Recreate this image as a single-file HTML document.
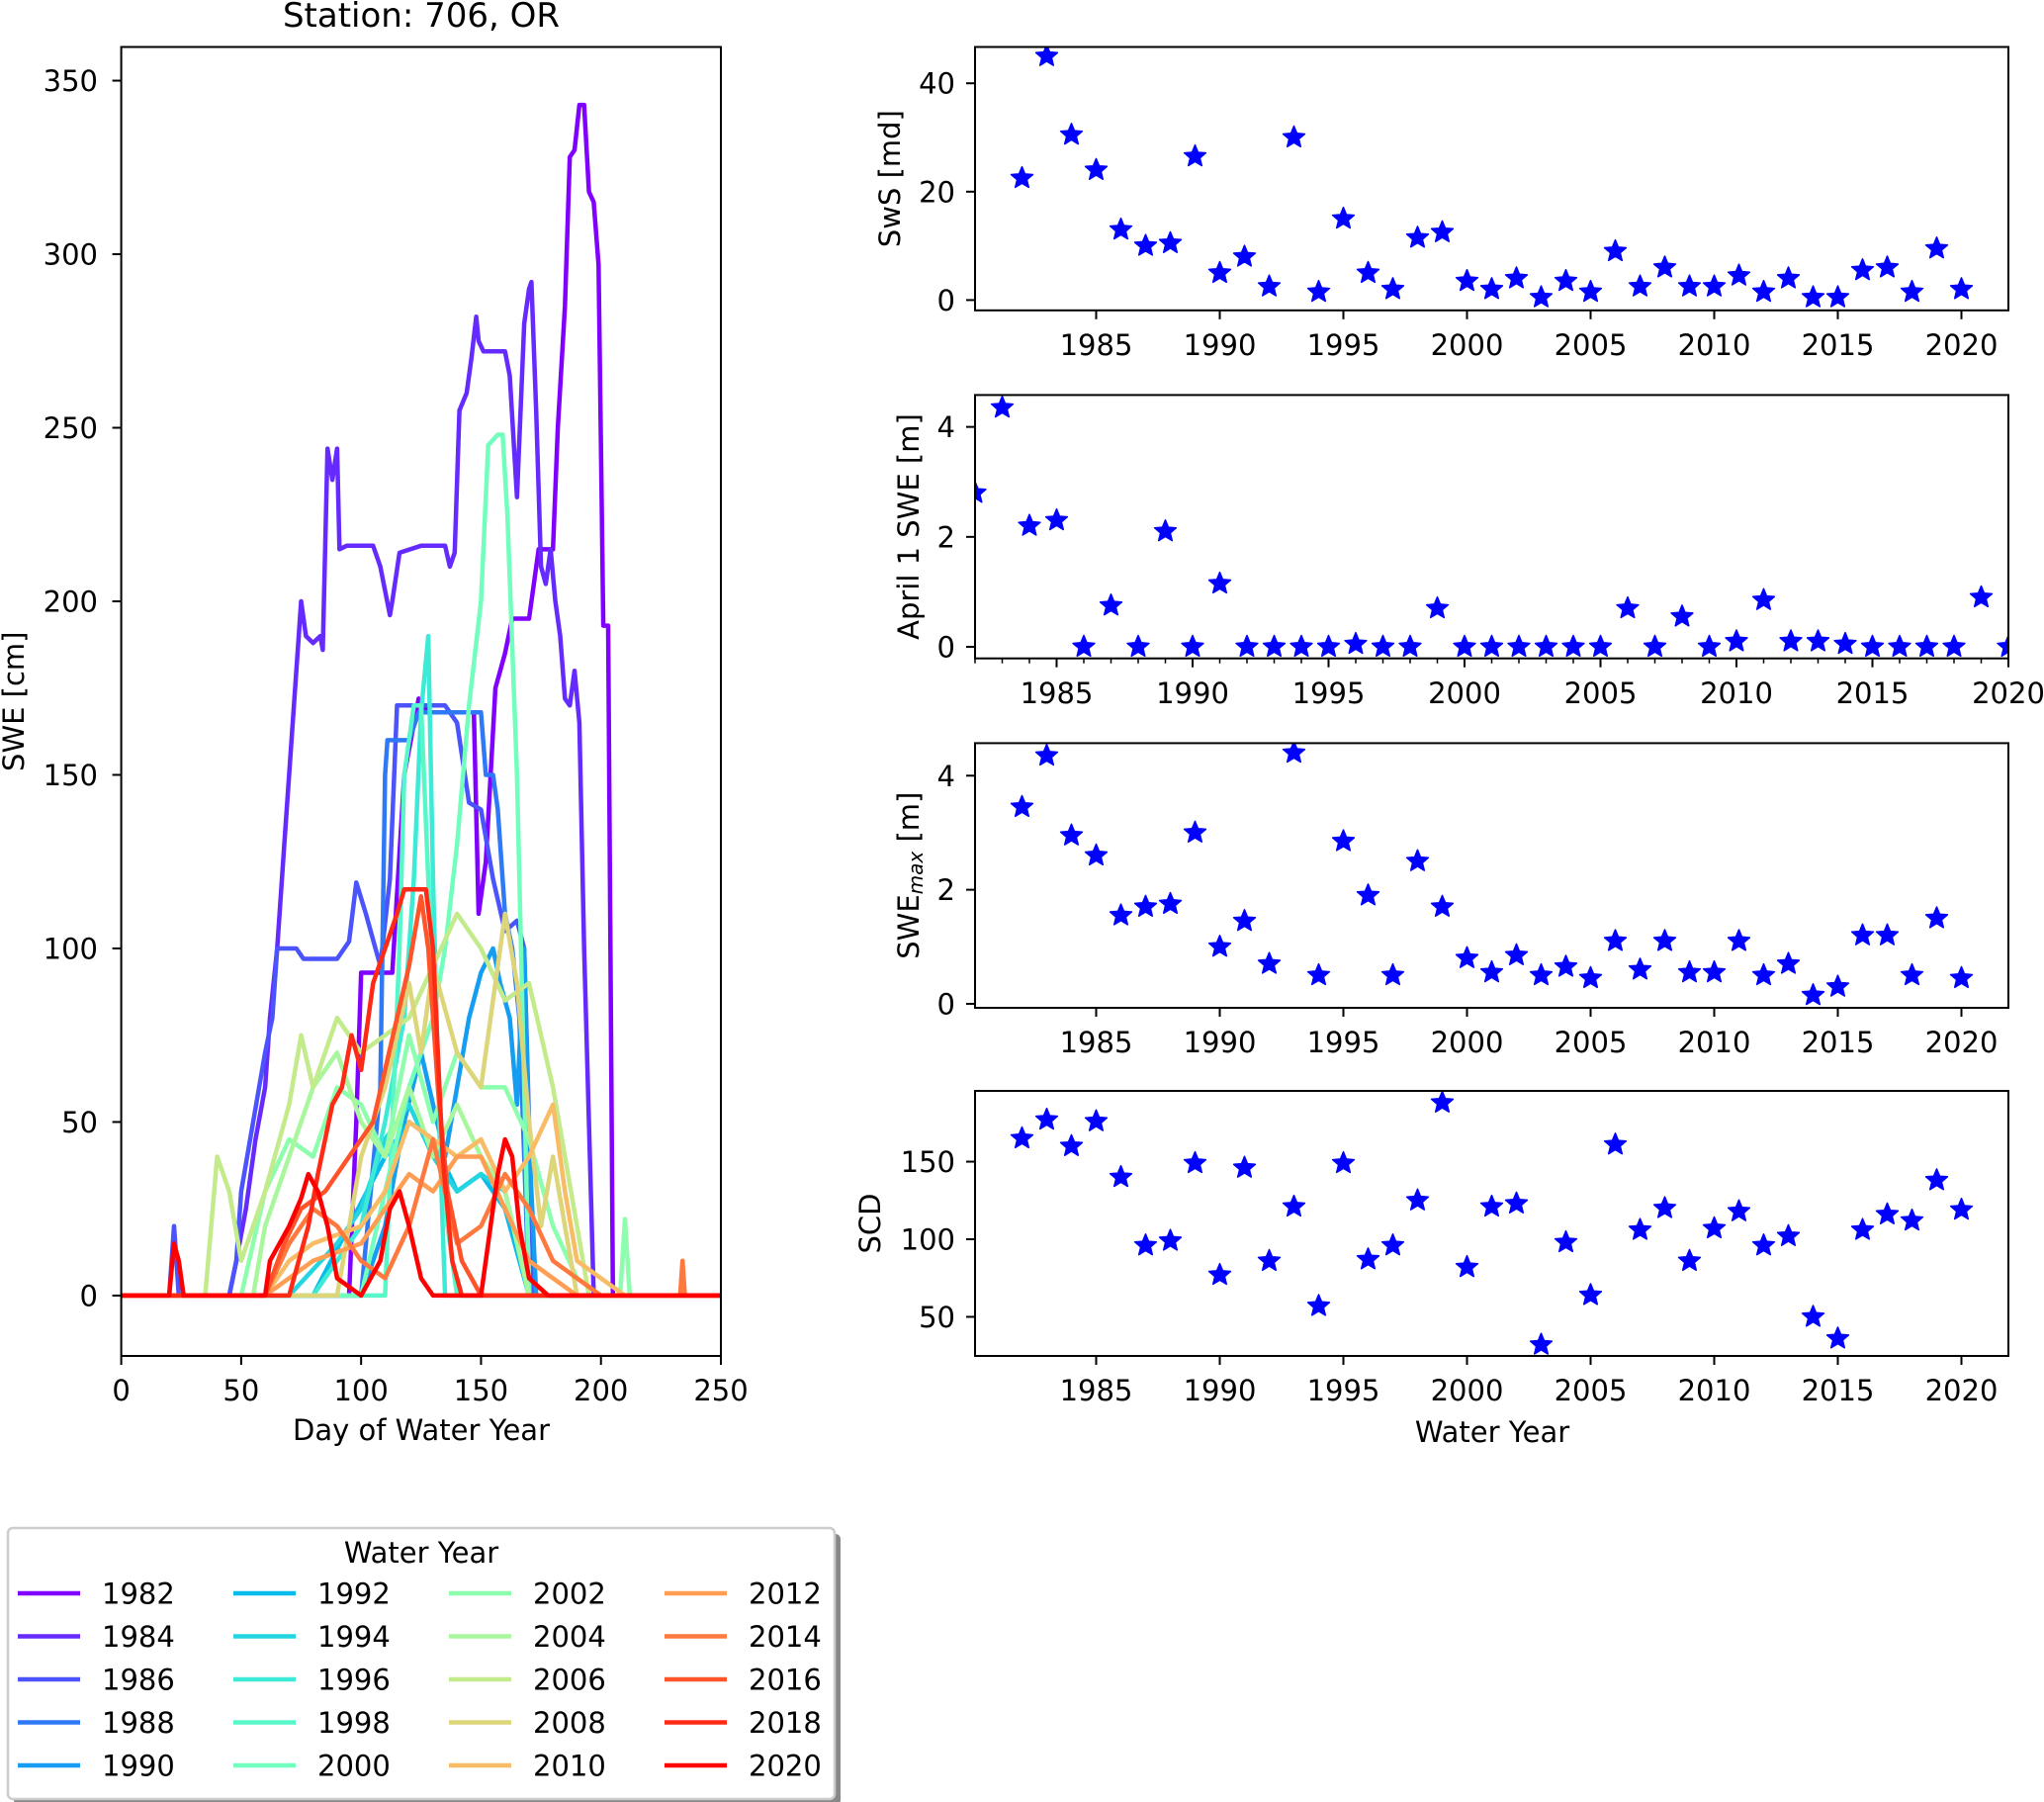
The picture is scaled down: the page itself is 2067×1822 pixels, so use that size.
<!DOCTYPE html>
<html><head><meta charset="utf-8"><style>
html,body{margin:0;padding:0;background:#fff;}
svg{display:block;font-family:"DejaVu Sans","Liberation Sans",sans-serif;}
</style></head><body>
<svg id="fig" width="2067" height="1822" viewBox="0 0 2067 1822" xmlns="http://www.w3.org/2000/svg">
<text x="426" y="27" font-size="34" text-anchor="middle">Station: 706, OR</text>
</svg>
<script>
// ---------- data ----------
const years = [];
for (let y = 1982; y <= 2020; y++) years.push(y);
const sws = [22.5,45,30.5,24,13,10,10.5,26.5,5,8,2.5,30,1.5,15,5,2,11.5,12.5,3.5,2,4,0.5,3.5,1.5,9,2.5,6,2.5,2.5,4.5,1.5,4,0.5,0.5,5.5,6,1.5,9.5,2];
const apr1 = [2.8,4.35,2.2,2.3,0,0.75,0,2.1,0,1.15,0,0,0,0,0.05,0,0,0.7,0,0,0,0,0,0,0.7,0,0.55,0,0.1,0.85,0.1,0.1,0.05,0,0,0,0,0.9,0];
const swemax = [3.45,4.35,2.95,2.6,1.55,1.7,1.75,3.0,1.0,1.45,0.7,4.4,0.5,2.85,1.9,0.5,2.5,1.7,0.8,0.55,0.85,0.5,0.65,0.45,1.1,0.6,1.1,0.55,0.55,1.1,0.5,0.7,0.15,0.3,1.2,1.2,0.5,1.5,0.45];
const scd = [165,177,160,176,140,96,99,149,77,146,86,121,57,149,87,96,125,188,82,121,123,32,98,64,161,106,120,86,107,118,96,102,50,36,106,116,112,138,119];
const dayTicks = [0,50,100,150,200,250];
const sweTicks = [0,50,100,150,200,250,300,350];
const yearTicks = [1985,1990,1995,2000,2005,2010,2015,2020];
const legendYears = [1982,1984,1986,1988,1990,1992,1994,1996,1998,2000,2002,2004,2006,2008,2010,2012,2014,2016,2018,2020];
// SWE series: [day, cm] pairs per water year
const s1982 = [[0,0],[95,0],[98,50],[100,93],[113,93],[118,150],[124,172],[128,168],[147,168],[149,110],[152,125],[156,175],[160,185],[163,195],[170,195],[174,215],[180,215],[182,250],[185,285],[187,328],[189,330],[191,343],[193,343],[195,318],[197,315],[199,297],[201,193],[203,193],[205,0],[250,0]];
const s1984 = [[0,0],[45,0],[48,10],[52,25],[56,45],[60,60],[62,80],[65,100],[68,130],[71,160],[74,190],[75,200],[77,190],[80,188],[83,190],[84,186],[85,215],[86,244],[88,235],[90,244],[91,215],[94,216],[105,216],[108,210],[112,196],[113,200],[116,214],[125,216],[135,216],[137,210],[139,214],[141,255],[144,260],[146,270],[148,282],[149,275],[151,272],[160,272],[162,265],[165,230],[168,280],[170,290],[171,292],[173,255],[175,210],[177,205],[179,215],[181,200],[183,190],[185,172],[187,170],[189,180],[191,165],[193,100],[197,0],[250,0]];
const s1986 = [[0,0],[20,0],[22,20],[24,0],[45,0],[48,10],[50,30],[55,50],[60,70],[63,80],[65,100],[73,100],[76,97],[90,97],[95,102],[98,119],[102,110],[106,100],[108,95],[112,120],[115,170],[120,170],[135,170],[140,165],[145,142],[150,140],[155,120],[160,105],[165,108],[168,100],[172,0],[250,0]];
const s1988 = [[0,0],[100,0],[108,60],[110,150],[111,160],[120,160],[124,168],[150,168],[152,150],[155,150],[157,140],[160,110],[163,100],[166,80],[170,0],[250,0]];
const s1990 = [[0,0],[100,0],[110,20],[118,50],[125,70],[135,40],[140,60],[145,80],[150,93],[155,100],[158,90],[162,80],[165,55],[168,100],[170,45],[173,0],[250,0]];
const s1992 = [[0,0],[80,0],[95,20],[110,40],[120,50],[130,45],[140,30],[150,35],[160,25],[170,0],[250,0]];
const s1994 = [[0,0],[70,0],[90,15],[100,25],[110,45],[120,55],[130,40],[140,30],[150,35],[160,30],[170,0],[250,0]];
const s1996 = [[0,0],[80,0],[100,20],[110,50],[118,80],[122,120],[125,168],[128,190],[130,120],[133,40],[135,0],[250,0]];
const s1998 = [[0,0],[110,0],[116,100],[118,150],[122,170],[125,170],[128,120],[132,60],[136,20],[140,0],[250,0]];
const s2000 = [[0,0],[100,0],[110,30],[120,60],[130,80],[135,100],[140,130],[145,170],[150,200],[153,245],[157,248],[159,248],[161,225],[165,150],[170,0],[250,0]];
const s2002 = [[0,0],[50,0],[60,30],[70,45],[80,40],[90,60],[100,55],[110,40],[120,75],[130,50],[140,70],[150,60],[160,60],[170,45],[180,20],[190,5],[200,0],[208,0],[210,22],[212,0],[250,0]];
const s2004 = [[0,0],[55,0],[60,20],[70,40],[80,60],[90,70],[100,50],[110,40],[120,60],[130,40],[140,55],[150,40],[160,30],[170,0],[250,0]];
const s2006 = [[0,0],[35,0],[40,40],[45,30],[50,10],[60,30],[70,55],[75,75],[80,60],[90,80],[100,70],[120,80],[140,110],[150,100],[160,85],[170,90],[180,60],[190,20],[195,0],[250,0]];
const s2008 = [[0,0],[90,0],[100,40],[110,60],[120,90],[125,70],[130,95],[140,70],[150,60],[160,110],[165,90],[170,50],[175,20],[180,40],[185,20],[190,0],[250,0]];
const s2010 = [[0,0],[60,0],[70,10],[80,15],[100,20],[110,30],[120,50],[130,45],[140,40],[150,45],[160,30],[170,40],[180,55],[185,30],[190,10],[200,5],[210,0],[250,0]];
const s2012 = [[0,0],[60,0],[80,10],[100,15],[120,35],[130,30],[140,40],[150,40],[160,25],[170,10],[180,5],[190,0],[250,0]];
const s2014 = [[0,0],[60,0],[70,15],[80,25],[90,20],[100,10],[110,5],[120,20],[130,45],[140,15],[150,20],[160,35],[170,25],[180,10],[190,5],[200,0],[233,0],[234,10],[235,0],[250,0]];
const s2016 = [[0,0],[60,0],[68,15],[75,25],[85,30],[95,40],[100,45],[105,50],[110,65],[115,80],[120,95],[125,115],[128,100],[132,60],[136,30],[142,10],[150,0],[250,0]];
const s2018 = [[0,0],[70,0],[78,20],[82,35],[88,55],[92,60],[96,75],[100,65],[105,90],[110,100],[115,110],[118,117],[127,117],[130,100],[134,40],[138,10],[142,0],[250,0]];
const s2020 = [[0,0],[20,0],[22,15],[24,10],[26,0],[60,0],[62,10],[70,20],[75,28],[78,35],[82,30],[86,20],[90,5],[100,0],[108,10],[112,25],[116,30],[120,20],[125,5],[130,0],[150,0],[154,20],[157,35],[160,45],[163,40],[166,20],[170,5],[178,0],[250,0]];
const seriesYears = [1982,1984,1986,1988,1990,1992,1994,1996,1998,2000,2002,2004,2006,2008,2010,2012,2014,2016,2018,2020];
const seriesData = [s1982,s1984,s1986,s1988,s1990,s1992,s1994,s1996,s1998,s2000,s2002,s2004,s2006,s2008,s2010,s2012,s2014,s2016,s2018,s2020];

// ---------- helpers ----------
const NS = 'http://www.w3.org/2000/svg';
const fig = document.getElementById('fig');
const FS = 29;
function el(tag, attrs, parent) {
  const e = document.createElementNS(NS, tag);
  for (const k in attrs) e.setAttribute(k, attrs[k]);
  (parent || fig).appendChild(e);
  return e;
}
function rainbow(year) {
  const x = (year - 1982) / 38;
  const r = Math.min(1, Math.abs(2 * x - 0.5)), g = Math.sin(Math.PI * x), b = Math.cos(Math.PI * x / 2);
  return 'rgb(' + Math.round(r * 255) + ',' + Math.round(g * 255) + ',' + Math.round(Math.max(0, b) * 255) + ')';
}
function scale(d0, d1, p0, p1) { return v => p0 + (v - d0) / (d1 - d0) * (p1 - p0); }
function starPts(cx, cy, R) {
  const pts = [], r = R * 0.45;
  for (let i = 0; i < 10; i++) {
    const a = -Math.PI / 2 + i * Math.PI / 5, rr = i % 2 ? r : R;
    pts.push((cx + rr * Math.cos(a)).toFixed(1) + ',' + (cy + rr * Math.sin(a)).toFixed(1));
  }
  return pts.join(' ');
}
let clipId = 0;
function axes(box, xd, yd, name) {
  const g = el('g', {});
  
  
  const sx = scale(xd[0], xd[1], box.l, box.r), sy = scale(yd[0], yd[1], box.b, box.t);
  const id = 'clip' + (clipId++);
  const cp = el('clipPath', {id: id}, g);
  el('rect', {x: box.l, y: box.t, width: box.r - box.l, height: box.b - box.t}, cp);
  const plot = el('g', {'clip-path': 'url(#' + id + ')'}, g);
  return {g, sx, sy, plot, box};
}
function frame(a) {
  const f = el('rect', {x: a.box.l, y: a.box.t, width: a.box.r - a.box.l, height: a.box.b - a.box.t, fill: 'none', stroke: '#000', 'stroke-width': 2}, a.g);
  
  
}
function xticks(a, ticks, labelY, minor) {
  if (minor) minor.forEach(v => { const x = a.sx(v); el('line', {x1: x, x2: x, y1: a.box.b, y2: a.box.b + 5, stroke: '#000', 'stroke-width': 1.5}, a.g); });
  ticks.forEach(v => {
    const x = a.sx(v);
    el('line', {x1: x, x2: x, y1: a.box.b, y2: a.box.b + 9, stroke: '#000', 'stroke-width': 2}, a.g);
    const t = el('text', {x: x, y: labelY, 'font-size': FS, 'text-anchor': 'middle'}, a.g);
    
    
    t.textContent = v;
  });
}
function yticks(a, ticks, labelX) {
  ticks.forEach(v => {
    const y = a.sy(v);
    el('line', {x1: a.box.l - 9, x2: a.box.l, y1: y, y2: y, stroke: '#000', 'stroke-width': 2}, a.g);
    const t = el('text', {x: labelX, y: y + 10.5, 'font-size': FS, 'text-anchor': 'end'}, a.g);
    
    
    t.textContent = v;
  });
}
function ylabel(a, x, nm) {
  const cy = (a.box.t + a.box.b) / 2;
  const t = el('text', {x: x, y: cy, 'font-size': FS, 'text-anchor': 'middle', transform: 'rotate(-90 ' + x + ' ' + cy + ')', 'dominant-baseline': 'central'}, a.g);
  
  
  return t;
}
function scatter(a, xs, ys, nm) {
  xs.forEach((xv, i) => {
    const p = el('polygon', {points: starPts(a.sx(xv), a.sy(ys[i]), 11.5), fill: '#0000ff', stroke: '#0000ff', 'stroke-width': 1.5, 'stroke-linejoin': 'round'}, a.plot);
    
    
  });
}

// ---------- left SWE chart ----------
const L = axes({l: 122.6, r: 729, t: 47.5, b: 1371}, [0, 250], [-17.4, 359.7], 'swe-chart');
seriesData.forEach((s, i) => {
  const d = s.map((p, j) => (j ? 'L' : 'M') + L.sx(p[0]).toFixed(1) + ' ' + L.sy(p[1]).toFixed(1)).join(' ');
  const path = el('path', {d: d, fill: 'none', stroke: rainbow(seriesYears[i]), 'stroke-width': 4.5, 'stroke-linejoin': 'round'}, L.plot);
  
  
});
frame(L);
xticks(L, dayTicks, 1416);
yticks(L, sweTicks, 99);
ylabel(L, 14, 'y-axis-title').textContent = 'SWE [cm]';
const xl = el('text', {x: 426, y: 1456, 'font-size': FS, 'text-anchor': 'middle'});


xl.textContent = 'Day of Water Year';

// ---------- right panels ----------
const minorYears = years.slice();
const P1 = axes({l: 986, r: 2031, t: 47.5, b: 313.8}, [1980.1, 2021.9], [-1.9, 46.7], 'sws-panel');
scatter(P1, years, sws, 'sws'); frame(P1);
xticks(P1, yearTicks, 359); yticks(P1, [0, 20, 40], 966);
ylabel(P1, 900, 'sws-axis-title').textContent = 'SwS [md]';

const P2 = axes({l: 986, r: 2031, t: 399.4, b: 665.7}, [1982, 2020], [-0.21, 4.58], 'april1-panel');
scatter(P2, years, apr1, 'april1'); frame(P2);
xticks(P2, yearTicks, 711, minorYears); yticks(P2, [0, 2, 4], 966);
ylabel(P2, 919, 'april1-axis-title').textContent = 'April 1 SWE [m]';

const P3 = axes({l: 986, r: 2031, t: 751.4, b: 1019}, [1980.1, 2021.9], [-0.07, 4.57], 'swemax-panel');
scatter(P3, years, swemax, 'swemax'); frame(P3);
xticks(P3, yearTicks, 1064); yticks(P3, [0, 2, 4], 966);
const t3 = ylabel(P3, 919, 'swemax-axis-title');
const ts1 = el('tspan', {}, t3); ts1.textContent = 'SWE';
const ts2 = el('tspan', {'font-size': 20, 'font-style': 'italic', dy: 7}, t3); ts2.textContent = 'max';
const ts3 = el('tspan', {dy: -7}, t3); ts3.textContent = ' [m]';

const P4 = axes({l: 986, r: 2031, t: 1103, b: 1371}, [1980.1, 2021.9], [24.8, 195.6], 'scd-panel');
scatter(P4, years, scd, 'scd'); frame(P4);
xticks(P4, yearTicks, 1416); yticks(P4, [50, 100, 150], 966);
ylabel(P4, 880, 'scd-axis-title').textContent = 'SCD';
const wl = el('text', {x: 1509, y: 1458, 'font-size': FS, 'text-anchor': 'middle'});


wl.textContent = 'Water Year';

// ---------- legend ----------
const lg = el('g', {});


el('rect', {x: 14, y: 1551, width: 836, height: 274, rx: 5, fill: '#888'}, lg);
el('rect', {x: 8, y: 1545, width: 836, height: 274, rx: 5, fill: '#fff', stroke: '#ccc', 'stroke-width': 2.5}, lg);
const lt = el('text', {x: 426, y: 1580, 'font-size': FS, 'text-anchor': 'middle'}, lg);


lt.textContent = 'Water Year';
legendYears.forEach((yr, i) => {
  const col = Math.floor(i / 5), row = i % 5;
  const lx = 18 + col * 218, ly = 1611 + row * 43.5;
  const e = el('g', {}, lg);
  
  
  el('line', {x1: lx, x2: lx + 63, y1: ly, y2: ly, stroke: rainbow(yr), 'stroke-width': 4.5}, e);
  const t = el('text', {x: lx + 85, y: ly + 10.5, 'font-size': FS}, e);
  t.textContent = yr;
});
</script>
</body></html>
